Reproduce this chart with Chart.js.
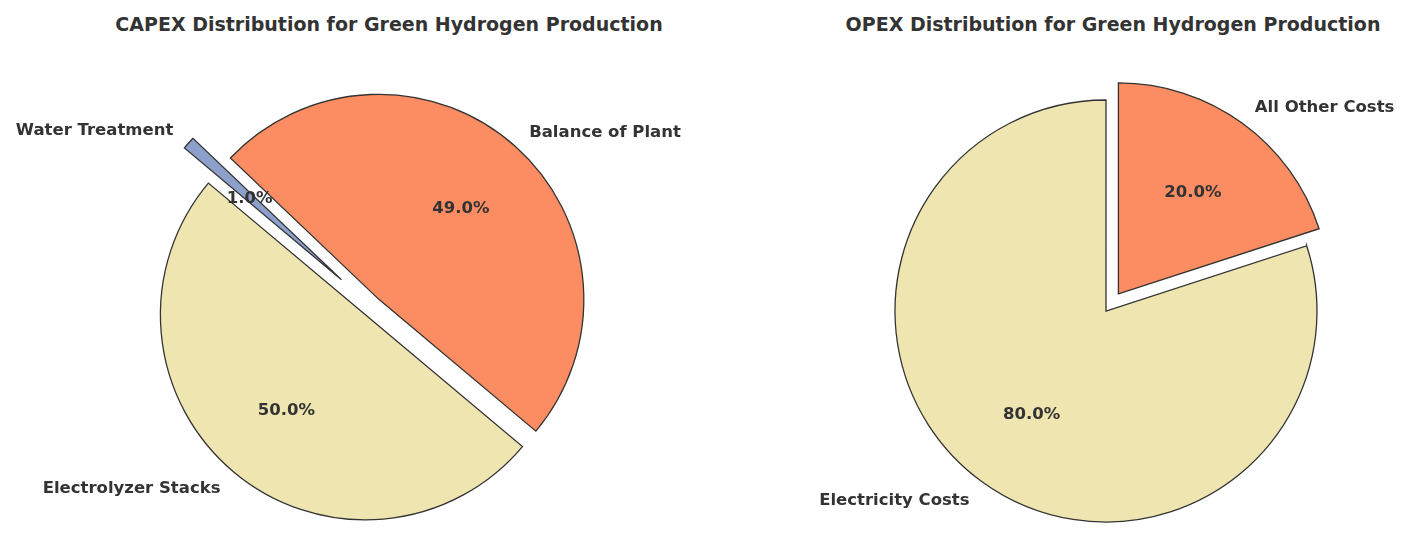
<!DOCTYPE html>
<html>
<head>
<meta charset="utf-8">
<script src="https://cdn.jsdelivr.net/npm/chart.js@4/dist/chart.umd.min.js"></script>
<style>
  html, body { margin: 0; padding: 0; background: #ffffff; }
  #wrap { position: relative; width: 1413px; height: 536px; overflow: hidden; }
  canvas { position: absolute; top: 0; }
  .title { position: absolute; top: 11px; height: 26px; line-height: 26px; text-align: center;
           font-family: 'DejaVu Sans', sans-serif; font-weight: bold; font-size: 19px; color: #333333; white-space: nowrap; }
</style>
</head>
<body>
<div id="wrap">
  <div class="title" style="left:89px; width:600px;">CAPEX Distribution for Green Hydrogen Production</div>
  <div class="title" style="left:813px; width:600px;">OPEX Distribution for Green Hydrogen Production</div>
  <canvas id="capex" width="706" height="536" style="left:0px;"></canvas>
  <canvas id="opex" width="707" height="536" style="left:706px;"></canvas>
</div>
<script>
// ---- data (listed in clockwise drawing order) ----
const capexCategories = ['Water Treatment', 'Balance of Plant', 'Electrolyzer Stacks'];
const capexValues = [1, 49, 50];
const opexCategories = ['All Other Costs', 'Electricity Costs'];
const opexValues = [20, 80];

// ---- styling ----
const YELLOW = '#EEE5B0';
const ORANGE = '#FC8D62';
const BLUE = '#8DA0CB';
const EDGE = '#333333';
const TEXT = '#333333';
const FONT = "bold 16.5px 'DejaVu Sans', sans-serif";
const TEXT_DY = 1.5;

const explodePlugin = {
  id: 'explode',
  beforeDatasetsDraw(chart) {
    const explode = chart.options.plugins.explode.fractions;
    const meta = chart.getDatasetMeta(0);
    const a = chart.chartArea;
    const cx = (a.left + a.right) / 2, cy = (a.top + a.bottom) / 2;
    meta.data.forEach((arc, i) => {
      const mid = (arc.startAngle + arc.endAngle) / 2;
      const d = (explode[i] || 0) * arc.outerRadius;
      arc.x = cx + d * Math.cos(mid);
      arc.y = cy + d * Math.sin(mid);
    });
  }
};

const labelPlugin = {
  id: 'pieLabels',
  afterDatasetsDraw(chart) {
    const ctx = chart.ctx;
    const meta = chart.getDatasetMeta(0);
    const ds = chart.data.datasets[0];
    const total = ds.data.reduce((s, v) => s + v, 0);
    ctx.save();
    ctx.font = FONT;
    ctx.fillStyle = TEXT;
    ctx.textBaseline = 'middle';
    meta.data.forEach((arc, i) => {
      const mid = (arc.startAngle + arc.endAngle) / 2;
      const r = arc.outerRadius;
      const c = Math.cos(mid), s = Math.sin(mid);
      // category label
      ctx.textAlign = c > 0 ? 'left' : 'right';
      ctx.fillText(chart.data.labels[i], arc.x + 1.1 * r * c, arc.y + 1.1 * r * s + TEXT_DY);
      // percentage
      ctx.textAlign = 'center';
      const pct = (ds.data[i] / total * 100).toFixed(1) + '%';
      ctx.fillText(pct, arc.x + 0.6 * r * c, arc.y + 0.6 * r * s + TEXT_DY);
    });
    ctx.restore();
  }
};

function makePie(id, labels, values, colors, explode, rotation, radius, padding) {
  return new Chart(document.getElementById(id), {
    type: 'pie',
    data: {
      labels: labels,
      datasets: [{
        data: values,
        backgroundColor: colors,
        borderColor: EDGE,
        borderWidth: 1.3,
        borderJoinStyle: 'miter'
      }]
    },
    options: {
      responsive: false,
      devicePixelRatio: 1,
      animation: false,
      events: [],
      rotation: rotation,
      radius: radius,
      layout: { padding: padding },
      plugins: {
        legend: { display: false },
        title: { display: false },
        tooltip: { enabled: false },
        explode: { fractions: explode }
      }
    },
    plugins: [explodePlugin, labelPlugin]
  });
}

makePie('capex', capexCategories, capexValues, [BLUE, ORANGE, YELLOW],
        [0.2, 0.05, 0.05], -50, 205, { left: 38, right: 0, top: 78, bottom: 0 });
makePie('opex', opexCategories, opexValues, [ORANGE, YELLOW],
        [0.1, 0], 0, 211, { left: 93, right: 0, top: 86, bottom: 0 });
</script>
</body>
</html>
